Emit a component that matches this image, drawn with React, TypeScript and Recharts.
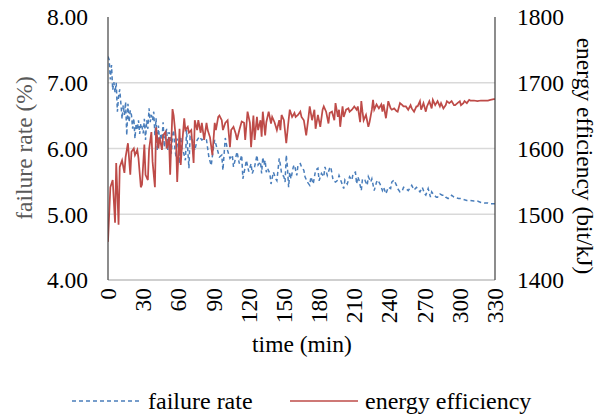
import React from 'react';
import { ComposedChart, Line, XAxis, YAxis, ReferenceLine } from 'recharts';

const rateTimes = [0,1,2,3,4,5,6,7,8,9,10,11,12,13,14,15,16,17,18,19,20,21,22,23,24,25,26,27,28,29,30,31,32,33,34,35,36,37,38,39,40,41,42,43,44,45,46,47,48,49,50,51,52,53,54,55,56,57,58,59,60,61,62,63,64,66,67,69,70,72,74,76,78,80,82,84,86,88,90,91,93,95,97,98,100,102,104,106,107,109,110,112,114,115,117,118,120,122,123,125,127,128,130,131,132,133,134,135,136,138,139,141,143,144,146,147,148,150,151,152,153,154,155,156,158,159,161,162,164,165,167,168,170,172,173,175,177,179,180,182,184,185,187,189,190,192,194,196,197,199,201,202,204,206,208,209,211,212,213,214,216,217,219,221,222,224,225,227,229,230,232,234,235,237,239,241,242,244,246,247,249,251,252,254,256,258,259,261,263,264,266,268,270,271,273,275,276,278,280,281,283,285,287,288,290,292,293,295,297,299,301,304,306,309,312,315,318,321,324,326,329,330];
const rateValues = [7.40,7.35,7.05,7.27,6.89,7.01,6.85,7.00,6.56,6.79,6.90,6.68,6.45,6.66,6.51,6.71,6.20,6.68,6.40,6.58,6.51,6.30,6.46,6.15,6.38,6.28,6.43,6.22,6.38,6.33,6.23,6.45,6.13,6.43,6.30,6.61,6.40,6.51,6.43,6.56,6.20,6.46,5.97,6.35,6.10,6.23,6.13,6.40,6.02,6.18,6.30,5.97,6.25,6.18,5.92,6.20,6.28,6.00,5.87,6.15,6.05,5.77,6.18,6.00,5.97,5.82,6.28,5.70,6.18,6.13,5.97,6.13,6.18,6.13,6.15,6.13,5.87,5.74,6.02,6.13,6.00,5.87,5.90,5.67,6.16,5.97,5.85,5.90,5.72,5.87,5.95,5.77,5.90,5.54,5.72,5.82,5.65,5.77,5.62,5.72,5.90,5.75,5.80,5.62,5.87,5.75,5.82,5.64,5.70,5.62,5.46,5.64,5.54,5.51,5.85,5.75,5.62,5.57,5.49,5.90,5.72,5.41,5.64,5.54,5.72,5.75,5.59,5.75,5.77,5.72,5.67,5.57,5.49,5.44,5.57,5.46,5.67,5.70,5.51,5.62,5.57,5.72,5.59,5.70,5.72,5.51,5.49,5.52,5.59,5.49,5.39,5.52,5.46,5.57,5.52,5.62,5.64,5.46,5.57,5.52,5.36,5.54,5.52,5.44,5.57,5.49,5.54,5.36,5.49,5.52,5.46,5.36,5.41,5.31,5.41,5.39,5.49,5.52,5.44,5.39,5.34,5.36,5.41,5.39,5.36,5.41,5.44,5.37,5.41,5.39,5.34,5.41,5.31,5.29,5.39,5.26,5.34,5.29,5.26,5.26,5.31,5.29,5.29,5.26,5.24,5.27,5.29,5.26,5.25,5.24,5.24,5.22,5.21,5.21,5.20,5.20,5.18,5.17,5.17,5.16,5.16,5.16];

const effTimes = [0,2,4,6,7,9,10,12,14,15,17,19,20,22,23,25,26,28,29,31,32,34,35,37,38,40,41,43,44,46,47,49,50,52,53,55,56,58,59,61,62,63,65,66,68,69,71,73,74,76,77,79,80,82,84,85,87,89,91,92,94,95,97,98,100,102,104,105,107,109,110,112,114,116,117,119,121,122,124,125,127,128,130,131,132,134,135,137,139,140,142,144,146,147,148,150,152,154,155,157,159,160,162,164,165,167,169,171,172,174,176,177,179,181,183,184,186,188,189,191,193,194,196,197,198,200,201,203,205,206,208,210,212,213,215,216,217,218,220,222,223,225,226,227,229,231,233,234,235,237,239,241,242,244,246,247,249,251,252,254,256,258,259,261,263,264,266,267,269,271,272,274,276,277,279,281,283,284,286,288,289,291,293,295,296,298,300,301,303,304,306,308,309,312,315,318,321,324,326,329,330];
const effValues = [1458,1541,1552,1487,1578,1484,1572,1582,1563,1587,1608,1560,1595,1600,1590,1598,1585,1541,1545,1606,1560,1552,1598,1625,1580,1541,1632,1600,1617,1598,1620,1625,1600,1617,1560,1660,1650,1613,1549,1630,1575,1602,1646,1628,1633,1624,1628,1578,1643,1628,1643,1624,1639,1613,1639,1628,1617,1590,1639,1628,1648,1650,1643,1628,1639,1643,1602,1628,1633,1622,1613,1628,1641,1639,1613,1656,1639,1602,1650,1613,1648,1628,1643,1618,1656,1620,1640,1656,1638,1648,1640,1628,1643,1628,1651,1643,1608,1643,1659,1648,1654,1648,1651,1656,1648,1643,1620,1648,1664,1643,1659,1630,1651,1633,1659,1664,1656,1638,1654,1656,1643,1669,1648,1659,1633,1664,1648,1659,1661,1656,1659,1664,1659,1664,1640,1672,1656,1643,1651,1633,1640,1659,1674,1659,1667,1661,1667,1656,1667,1646,1672,1661,1659,1661,1657,1656,1669,1666,1664,1664,1659,1666,1661,1656,1664,1664,1672,1659,1669,1656,1664,1672,1661,1674,1666,1672,1664,1669,1661,1666,1672,1669,1672,1666,1666,1669,1672,1666,1669,1672,1669,1674,1673,1673,1672,1673,1673,1673,1674,1675,1675];

const xTicks = [0,30,60,90,120,150,180,210,240,270,300,330];
const leftTicks = [4,5,6,7,8];
const rightTicks = [1400,1500,1600,1700,1800];
const gridValues = [5,6,7];

const rateData = rateTimes.map((t, i) => ({ t, v: rateValues[i] }));
const effData = effTimes.map((t, i) => ({ t, v: effValues[i] }));

const FONT = "'Liberation Serif', serif";
const FS = 23.5;

const textStyle: React.CSSProperties = {
  position: 'absolute', whiteSpace: 'nowrap', fontSize: FS, lineHeight: 1, fontFamily: FONT, color: '#000',
};

const XTick = (props: any) => {
  const { x, y, payload } = props;
  return (
    <text x={x} y={y} transform={`rotate(-90 ${x} ${y})`} textAnchor="end" dominantBaseline="central"
      fontFamily={FONT} fontSize={FS} fill="#000">{payload.value}</text>
  );
};

export default function App() {
  return (
    <div style={{ position: 'absolute', left: 0, top: 0, width: 608, height: 414, background: '#fff', fontFamily: FONT }}>
      <ComposedChart width={608} height={414} margin={{ top: 17, right: 53, bottom: 0, left: 48 }}>
        <XAxis xAxisId="x" type="number" dataKey="t" domain={[0, 330]} ticks={xTicks} interval={0}
          allowDataOverflow height={134} tickSize={0} tickMargin={8} tick={<XTick />}
          axisLine={{ stroke: '#BFBFBF', strokeWidth: 1.5 }} tickLine={false} />
        <YAxis yAxisId="left" domain={[4, 8]} ticks={leftTicks} width={60} tickSize={0} tickMargin={20}
          tickFormatter={(v: number) => v.toFixed(2)} tickLine={false}
          axisLine={{ stroke: '#404040', strokeWidth: 1.2 }}
          tick={{ fontFamily: FONT, fontSize: FS, fill: '#000' }} />
        <YAxis yAxisId="right" orientation="right" domain={[1400, 1800]} ticks={rightTicks} width={60}
          tickSize={0} tickMargin={22} tickLine={false}
          axisLine={{ stroke: '#404040', strokeWidth: 1.2 }}
          tick={{ fontFamily: FONT, fontSize: FS, fill: '#000' }} />
        {gridValues.map((g) => (
          <ReferenceLine key={g} xAxisId="x" yAxisId="left" y={g} stroke="#D9D9D9" strokeWidth={1.5} />
        ))}
        <Line xAxisId="x" yAxisId="left" data={rateData} dataKey="v" type="linear" dot={false}
          stroke="#4A7EBB" strokeWidth={1.5} strokeDasharray="4 3" isAnimationActive={false} />
        <Line xAxisId="x" yAxisId="right" data={effData} dataKey="v" type="linear" dot={false}
          stroke="#BE4B48" strokeWidth={1.75} isAnimationActive={false} />
      </ComposedChart>

      <div style={{ ...textStyle, left: 25, top: 148, transform: 'translate(-50%, -50%) rotate(-90deg)', color: '#595959' }}>failure rate (%)</div>
      <div style={{ ...textStyle, left: 584, top: 156, transform: 'translate(-50%, -50%) rotate(90deg)' }}>energy efficiency (bit/kJ)</div>
      <div style={{ ...textStyle, left: 302, top: 345, transform: 'translate(-50%, -50%)' }}>time (min)</div>

      <svg style={{ position: 'absolute', left: 0, top: 390 }} width={608} height={24}>
        <line x1={72} x2={140} y1={11} y2={11} stroke="#4A7EBB" strokeWidth={1.5} strokeDasharray="4 3" />
        <line x1={290} x2={358} y1={11} y2={11} stroke="#BE4B48" strokeWidth={1.5} />
      </svg>
      <div style={{ ...textStyle, fontSize: 24, left: 148, top: 401, transform: 'translateY(-50%)' }}>failure rate</div>
      <div style={{ ...textStyle, fontSize: 24, left: 365, top: 401, transform: 'translateY(-50%)' }}>energy efficiency</div>
    </div>
  );
}
